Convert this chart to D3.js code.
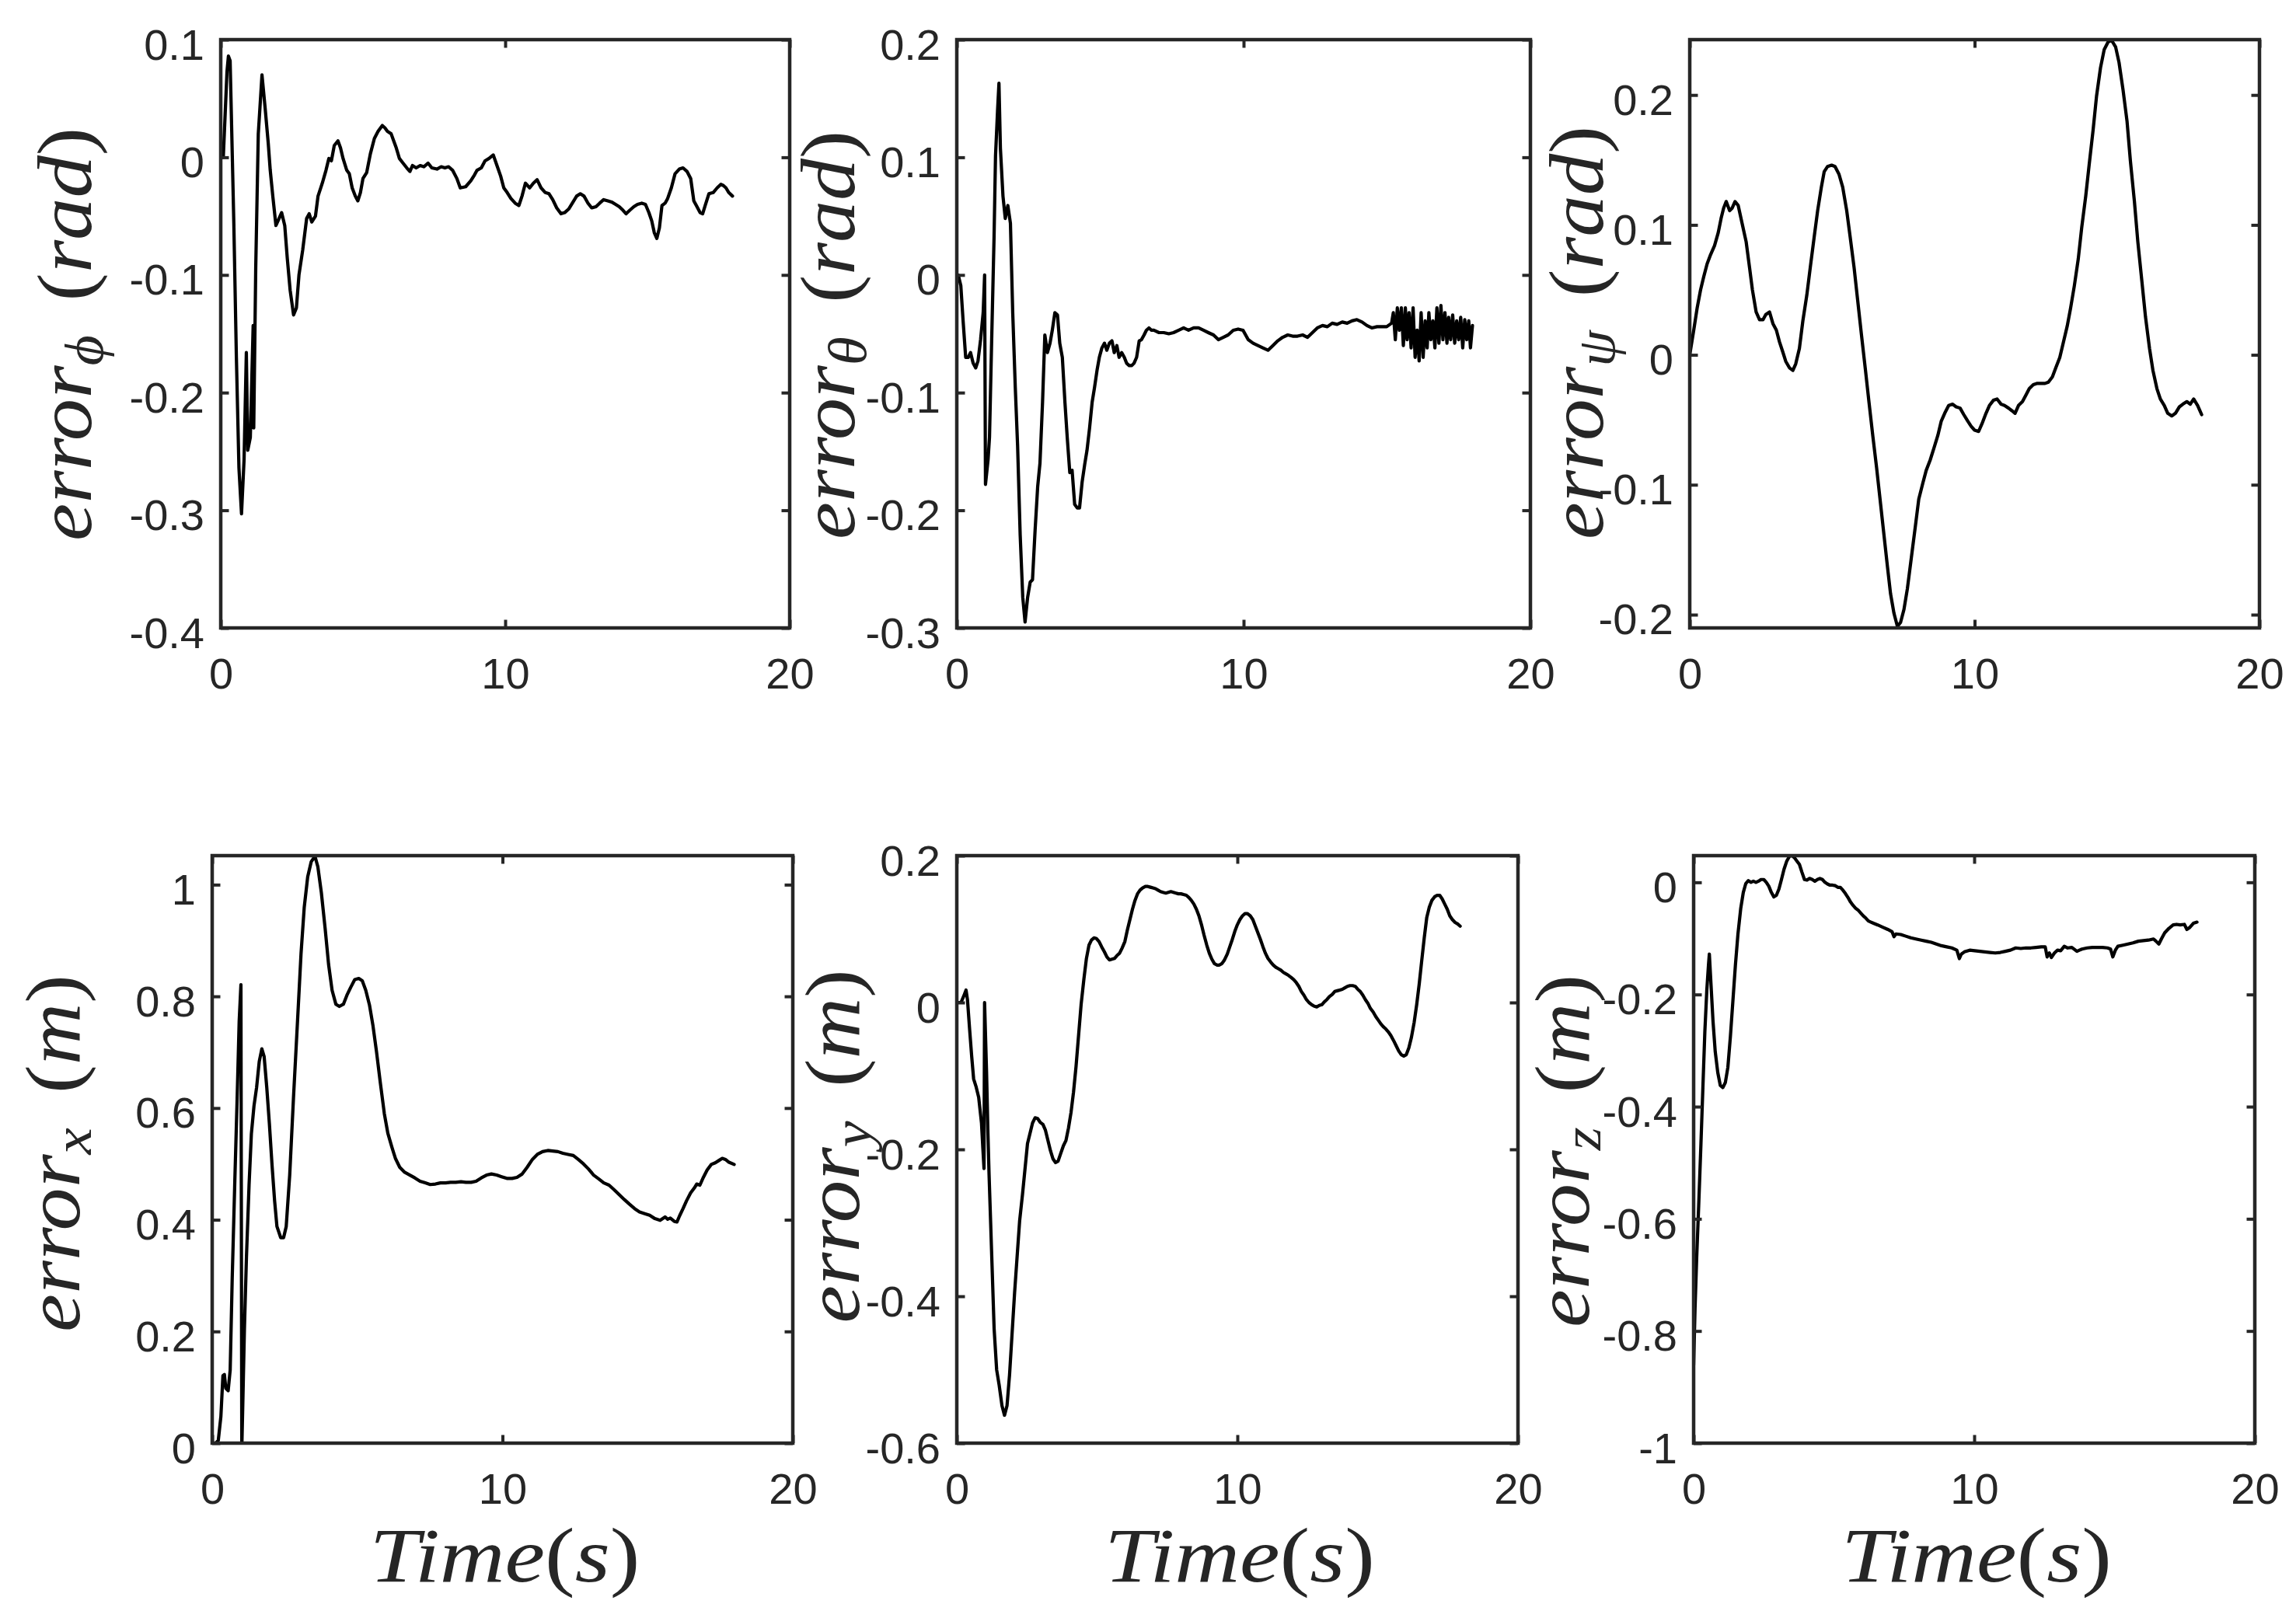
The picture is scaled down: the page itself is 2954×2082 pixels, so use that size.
<!DOCTYPE html>
<html><head><meta charset="utf-8">
<script src="https://cdn.jsdelivr.net/npm/d3@7"></script>
<style>html,body{margin:0;padding:0;background:#fff;} svg{display:block;}</style>
</head><body>
<svg id="chart" width="2954" height="2082"></svg>
<script>
// ---------------- data ----------------
const xTicks = [0, 10, 20];
const xDomain = [0, 20];

const errPhi = [[0,0],[0.09,0],[0.22,0.073],[0.27,0.086],[0.33,0.082],[0.46,-0.056],[0.55,-0.17],[0.64,-0.264],[0.73,-0.303],[0.82,-0.257],[0.9,-0.166],[0.95,-0.249],[1.04,-0.238],[1.14,-0.143],[1.16,-0.23],[1.23,-0.094],[1.32,0.02],[1.37,0.039],[1.45,0.07],[1.56,0.042],[1.67,0.012],[1.74,-0.011],[1.83,-0.033],[1.94,-0.058],[2.05,-0.052],[2.14,-0.047],[2.25,-0.058],[2.34,-0.086],[2.44,-0.113],[2.56,-0.134],[2.66,-0.128],[2.75,-0.1],[2.88,-0.079],[3.02,-0.052],[3.11,-0.048],[3.2,-0.055],[3.33,-0.05],[3.42,-0.033],[3.57,-0.022],[3.7,-0.011],[3.8,-0.001],[3.89,-0.003],[3.99,0.01],[4.12,0.014],[4.21,0.008],[4.3,-0.001],[4.43,-0.011],[4.52,-0.014],[4.62,-0.026],[4.73,-0.033],[4.82,-0.037],[4.91,-0.03],[5.0,-0.018],[5.13,-0.013],[5.26,0.003],[5.4,0.016],[5.53,0.022],[5.68,0.027],[5.77,0.025],[5.86,0.022],[5.99,0.02],[6.08,0.014],[6.17,0.008],[6.28,-0.001],[6.41,-0.005],[6.54,-0.009],[6.65,-0.012],[6.74,-0.007],[6.87,-0.009],[7.01,-0.007],[7.14,-0.008],[7.29,-0.005],[7.42,-0.009],[7.6,-0.01],[7.75,-0.008],[7.88,-0.009],[8.01,-0.008],[8.15,-0.011],[8.3,-0.018],[8.42,-0.026],[8.61,-0.025],[8.79,-0.02],[8.92,-0.015],[9.01,-0.011],[9.16,-0.009],[9.29,-0.003],[9.43,-0.001],[9.58,0.002],[9.71,-0.007],[9.84,-0.016],[9.95,-0.026],[10.07,-0.03],[10.2,-0.035],[10.35,-0.039],[10.48,-0.041],[10.59,-0.033],[10.71,-0.022],[10.86,-0.026],[10.99,-0.022],[11.12,-0.019],[11.26,-0.026],[11.41,-0.03],[11.54,-0.031],[11.67,-0.036],[11.81,-0.043],[11.96,-0.048],[12.09,-0.047],[12.23,-0.044],[12.36,-0.039],[12.51,-0.033],[12.64,-0.031],[12.77,-0.033],[12.91,-0.039],[13.04,-0.043],[13.19,-0.042],[13.32,-0.039],[13.46,-0.036],[13.61,-0.037],[13.74,-0.038],[13.88,-0.04],[14.01,-0.042],[14.14,-0.045],[14.25,-0.048],[14.38,-0.045],[14.52,-0.042],[14.65,-0.04],[14.8,-0.039],[14.93,-0.04],[15.05,-0.047],[15.15,-0.054],[15.24,-0.064],[15.33,-0.069],[15.42,-0.06],[15.51,-0.041],[15.62,-0.039],[15.71,-0.035],[15.84,-0.026],[15.97,-0.014],[16.12,-0.01],[16.25,-0.009],[16.39,-0.012],[16.52,-0.018],[16.63,-0.037],[16.72,-0.041],[16.85,-0.047],[16.94,-0.048],[17.03,-0.041],[17.16,-0.031],[17.31,-0.03],[17.45,-0.026],[17.58,-0.023],[17.67,-0.024],[17.76,-0.026],[17.86,-0.03],[17.99,-0.033]];

const errTheta = [[0,0],[0.05,0],[0.14,-0.009],[0.22,-0.039],[0.31,-0.07],[0.4,-0.07],[0.48,-0.066],[0.57,-0.075],[0.66,-0.079],[0.74,-0.073],[0.83,-0.055],[0.92,-0.032],[0.97,0],[1.0,-0.178],[1.09,-0.157],[1.14,-0.138],[1.21,-0.062],[1.3,0.033],[1.35,0.101],[1.42,0.139],[1.47,0.163],[1.52,0.108],[1.61,0.067],[1.69,0.048],[1.78,0.059],[1.87,0.044],[1.95,-0.032],[2.04,-0.096],[2.12,-0.145],[2.21,-0.221],[2.3,-0.274],[2.38,-0.295],[2.47,-0.274],[2.56,-0.261],[2.64,-0.259],[2.73,-0.217],[2.82,-0.18],[2.9,-0.16],[2.99,-0.108],[3.07,-0.051],[3.16,-0.066],[3.25,-0.058],[3.33,-0.047],[3.42,-0.032],[3.51,-0.034],[3.59,-0.058],[3.68,-0.07],[3.77,-0.108],[3.85,-0.138],[3.94,-0.168],[4.02,-0.166],[4.11,-0.195],[4.2,-0.198],[4.28,-0.198],[4.37,-0.176],[4.46,-0.161],[4.54,-0.149],[4.63,-0.13],[4.72,-0.108],[4.8,-0.096],[4.89,-0.081],[4.97,-0.07],[5.06,-0.062],[5.15,-0.058],[5.23,-0.064],[5.32,-0.058],[5.41,-0.056],[5.49,-0.066],[5.58,-0.06],[5.66,-0.07],[5.75,-0.066],[5.84,-0.07],[5.92,-0.075],[6.01,-0.077],[6.1,-0.077],[6.18,-0.075],[6.27,-0.07],[6.36,-0.056],[6.44,-0.055],[6.53,-0.051],[6.61,-0.047],[6.7,-0.045],[6.79,-0.047],[6.87,-0.047],[7.05,-0.049],[7.22,-0.049],[7.39,-0.05],[7.56,-0.049],[7.74,-0.047],[7.91,-0.045],[8.08,-0.047],[8.26,-0.045],[8.43,-0.045],[8.6,-0.047],[8.77,-0.049],[8.95,-0.051],[9.12,-0.055],[9.29,-0.053],[9.46,-0.051],[9.64,-0.047],[9.81,-0.046],[9.98,-0.047],[10.16,-0.055],[10.33,-0.058],[10.5,-0.06],[10.67,-0.062],[10.85,-0.064],[11.02,-0.06],[11.19,-0.056],[11.36,-0.053],[11.54,-0.051],[11.71,-0.052],[11.88,-0.052],[12.06,-0.051],[12.23,-0.053],[12.4,-0.049],[12.57,-0.045],[12.75,-0.043],[12.92,-0.044],[13.09,-0.041],[13.26,-0.042],[13.44,-0.04],[13.61,-0.041],[13.78,-0.039],[13.95,-0.038],[14.13,-0.04],[14.3,-0.043],[14.47,-0.045],[14.65,-0.044],[14.82,-0.044],[14.99,-0.044],[15.16,-0.041],[15.22,-0.032],[15.29,-0.055],[15.36,-0.028],[15.43,-0.047],[15.5,-0.028],[15.57,-0.06],[15.64,-0.028],[15.7,-0.055],[15.77,-0.032],[15.84,-0.062],[15.91,-0.028],[15.98,-0.07],[16.05,-0.047],[16.12,-0.073],[16.19,-0.032],[16.26,-0.07],[16.33,-0.039],[16.4,-0.062],[16.46,-0.032],[16.53,-0.055],[16.6,-0.039],[16.67,-0.062],[16.74,-0.028],[16.81,-0.058],[16.88,-0.026],[16.95,-0.055],[17.02,-0.032],[17.09,-0.058],[17.15,-0.036],[17.22,-0.055],[17.29,-0.034],[17.36,-0.058],[17.43,-0.039],[17.5,-0.055],[17.57,-0.036],[17.64,-0.062],[17.71,-0.038],[17.78,-0.055],[17.85,-0.039],[17.91,-0.062],[17.98,-0.043]];

const errPsi = [[0,0],[0.14,0.019],[0.26,0.036],[0.38,0.05],[0.49,0.06],[0.61,0.07],[0.73,0.077],[0.87,0.084],[1.0,0.094],[1.1,0.105],[1.19,0.113],[1.28,0.118],[1.4,0.111],[1.49,0.113],[1.59,0.118],[1.7,0.115],[1.84,0.101],[1.98,0.087],[2.1,0.067],[2.2,0.05],[2.33,0.033],[2.45,0.027],[2.57,0.027],[2.67,0.031],[2.8,0.033],[2.92,0.024],[3.04,0.019],[3.15,0.01],[3.27,0.002],[3.37,-0.005],[3.5,-0.01],[3.62,-0.012],[3.72,-0.007],[3.85,0.005],[3.97,0.026],[4.11,0.046],[4.23,0.067],[4.37,0.091],[4.49,0.111],[4.62,0.129],[4.72,0.141],[4.84,0.145],[4.98,0.146],[5.1,0.145],[5.24,0.139],[5.37,0.129],[5.51,0.111],[5.63,0.091],[5.77,0.067],[5.89,0.043],[6.03,0.015],[6.17,-0.012],[6.29,-0.036],[6.43,-0.063],[6.56,-0.087],[6.7,-0.115],[6.82,-0.139],[6.94,-0.163],[7.05,-0.184],[7.17,-0.199],[7.29,-0.209],[7.4,-0.206],[7.52,-0.196],[7.64,-0.18],[7.78,-0.156],[7.92,-0.132],[8.04,-0.111],[8.18,-0.099],[8.3,-0.089],[8.44,-0.081],[8.57,-0.072],[8.71,-0.062],[8.83,-0.051],[8.95,-0.045],[9.09,-0.039],[9.23,-0.038],[9.35,-0.04],[9.49,-0.041],[9.62,-0.046],[9.76,-0.051],[9.88,-0.055],[10.0,-0.058],[10.14,-0.059],[10.26,-0.053],[10.4,-0.045],[10.52,-0.039],[10.66,-0.035],[10.79,-0.034],[10.93,-0.038],[11.05,-0.039],[11.19,-0.041],[11.31,-0.043],[11.42,-0.045],[11.54,-0.039],[11.68,-0.036],[11.8,-0.031],[11.92,-0.026],[12.06,-0.023],[12.2,-0.022],[12.33,-0.022],[12.47,-0.022],[12.59,-0.021],[12.73,-0.017],[12.85,-0.01],[12.99,-0.002],[13.11,0.009],[13.25,0.022],[13.37,0.036],[13.5,0.053],[13.64,0.074],[13.76,0.098],[13.9,0.122],[14.02,0.146],[14.16,0.173],[14.28,0.199],[14.42,0.221],[14.55,0.235],[14.69,0.241],[14.81,0.242],[14.95,0.237],[15.07,0.225],[15.21,0.204],[15.35,0.18],[15.47,0.149],[15.61,0.118],[15.73,0.087],[15.87,0.057],[16.0,0.029],[16.14,0.005],[16.26,-0.012],[16.4,-0.026],[16.52,-0.034],[16.66,-0.039],[16.78,-0.045],[16.92,-0.047],[17.05,-0.045],[17.19,-0.04],[17.31,-0.038],[17.45,-0.036],[17.57,-0.038],[17.69,-0.034],[17.83,-0.039],[17.97,-0.046]];

const errX = [[0,0],[0.12,0],[0.21,0.005],[0.3,0.048],[0.37,0.121],[0.42,0.123],[0.47,0.098],[0.55,0.094],[0.62,0.131],[0.69,0.296],[0.78,0.47],[0.86,0.618],[0.93,0.756],[0.99,0.821],[1.02,-0.01],[1.05,0.06],[1.11,0.204],[1.18,0.333],[1.27,0.462],[1.35,0.554],[1.44,0.604],[1.53,0.637],[1.62,0.683],[1.71,0.706],[1.79,0.692],[1.88,0.637],[1.97,0.572],[2.06,0.499],[2.15,0.434],[2.23,0.388],[2.36,0.368],[2.46,0.368],[2.55,0.388],[2.67,0.48],[2.8,0.618],[2.94,0.756],[3.06,0.876],[3.17,0.959],[3.29,1.014],[3.41,1.041],[3.54,1.051],[3.64,1.032],[3.76,0.986],[3.89,0.922],[4.01,0.857],[4.13,0.811],[4.26,0.786],[4.38,0.782],[4.52,0.786],[4.64,0.802],[4.77,0.816],[4.91,0.83],[5.05,0.832],[5.17,0.828],[5.29,0.811],[5.42,0.784],[5.54,0.747],[5.66,0.701],[5.79,0.646],[5.93,0.59],[6.05,0.555],[6.19,0.53],[6.31,0.51],[6.46,0.494],[6.63,0.485],[6.81,0.48],[6.98,0.475],[7.16,0.469],[7.34,0.466],[7.51,0.463],[7.69,0.464],[7.86,0.466],[8.04,0.466],[8.21,0.467],[8.39,0.467],[8.57,0.468],[8.74,0.467],[8.92,0.467],[9.09,0.469],[9.27,0.475],[9.45,0.48],[9.62,0.482],[9.8,0.48],[9.97,0.477],[10.15,0.474],[10.33,0.474],[10.5,0.476],[10.68,0.482],[10.85,0.494],[11.03,0.508],[11.2,0.517],[11.38,0.522],[11.56,0.524],[11.73,0.523],[11.91,0.522],[12.08,0.519],[12.26,0.517],[12.44,0.515],[12.61,0.508],[12.79,0.5],[12.96,0.491],[13.14,0.48],[13.32,0.473],[13.49,0.466],[13.67,0.462],[13.84,0.454],[14.02,0.445],[14.2,0.436],[14.37,0.428],[14.55,0.42],[14.72,0.414],[14.9,0.411],[15.07,0.408],[15.25,0.402],[15.43,0.399],[15.6,0.405],[15.69,0.401],[15.78,0.403],[15.92,0.397],[16.01,0.396],[16.1,0.407],[16.22,0.42],[16.34,0.434],[16.48,0.448],[16.61,0.457],[16.69,0.464],[16.8,0.462],[16.92,0.476],[17.05,0.489],[17.19,0.499],[17.33,0.502],[17.45,0.506],[17.57,0.51],[17.68,0.508],[17.8,0.503],[17.98,0.499]];

const errY = [[0,0],[0.15,0],[0.24,0.008],[0.33,0.017],[0.38,0.004],[0.46,-0.038],[0.53,-0.073],[0.6,-0.104],[0.69,-0.115],[0.78,-0.129],[0.88,-0.164],[0.93,-0.199],[0.97,-0.226],[0.99,0],[1.06,-0.094],[1.11,-0.178],[1.15,-0.234],[1.24,-0.339],[1.33,-0.444],[1.42,-0.5],[1.51,-0.521],[1.61,-0.549],[1.7,-0.562],[1.79,-0.549],[1.88,-0.507],[1.97,-0.451],[2.06,-0.395],[2.15,-0.346],[2.24,-0.297],[2.34,-0.262],[2.43,-0.227],[2.52,-0.192],[2.61,-0.178],[2.7,-0.164],[2.79,-0.157],[2.88,-0.158],[2.97,-0.163],[3.07,-0.166],[3.16,-0.174],[3.25,-0.188],[3.34,-0.202],[3.43,-0.213],[3.52,-0.218],[3.61,-0.216],[3.7,-0.206],[3.8,-0.195],[3.89,-0.188],[3.98,-0.171],[4.07,-0.15],[4.16,-0.122],[4.25,-0.087],[4.34,-0.045],[4.43,-0.003],[4.53,0.032],[4.62,0.06],[4.71,0.078],[4.8,0.085],[4.89,0.088],[4.98,0.087],[5.07,0.083],[5.16,0.076],[5.26,0.069],[5.35,0.062],[5.44,0.058],[5.53,0.059],[5.62,0.06],[5.71,0.064],[5.8,0.067],[5.89,0.074],[5.99,0.083],[6.08,0.099],[6.17,0.113],[6.26,0.127],[6.35,0.139],[6.44,0.148],[6.53,0.153],[6.62,0.156],[6.72,0.158],[6.81,0.158],[6.9,0.157],[6.99,0.156],[7.08,0.155],[7.17,0.153],[7.26,0.151],[7.35,0.15],[7.45,0.149],[7.54,0.15],[7.63,0.151],[7.72,0.15],[7.81,0.149],[7.9,0.148],[7.99,0.148],[8.08,0.147],[8.18,0.146],[8.27,0.143],[8.36,0.139],[8.45,0.134],[8.54,0.127],[8.63,0.118],[8.72,0.106],[8.81,0.092],[8.91,0.078],[9.0,0.067],[9.09,0.059],[9.18,0.053],[9.27,0.051],[9.36,0.051],[9.45,0.053],[9.54,0.058],[9.64,0.066],[9.73,0.076],[9.82,0.086],[9.91,0.097],[10.0,0.106],[10.09,0.113],[10.18,0.118],[10.27,0.121],[10.36,0.121],[10.46,0.118],[10.55,0.113],[10.64,0.104],[10.73,0.095],[10.82,0.086],[10.91,0.076],[11.0,0.067],[11.09,0.06],[11.19,0.055],[11.28,0.051],[11.37,0.048],[11.46,0.046],[11.55,0.044],[11.64,0.041],[11.73,0.039],[11.82,0.037],[11.92,0.034],[12.01,0.031],[12.1,0.027],[12.19,0.022],[12.28,0.015],[12.37,0.01],[12.46,0.004],[12.55,0],[12.65,-0.003],[12.74,-0.005],[12.83,-0.006],[12.92,-0.004],[13.01,-0.003],[13.1,0.001],[13.19,0.004],[13.28,0.008],[13.38,0.011],[13.47,0.015],[13.56,0.016],[13.65,0.017],[13.74,0.018],[13.83,0.02],[13.92,0.022],[14.01,0.023],[14.11,0.023],[14.2,0.022],[14.29,0.018],[14.38,0.015],[14.47,0.01],[14.56,0.004],[14.65,-0.001],[14.74,-0.008],[14.84,-0.013],[14.93,-0.019],[15.02,-0.024],[15.11,-0.029],[15.2,-0.033],[15.29,-0.036],[15.38,-0.04],[15.47,-0.045],[15.57,-0.052],[15.66,-0.059],[15.75,-0.066],[15.84,-0.071],[15.93,-0.073],[16.02,-0.071],[16.11,-0.062],[16.2,-0.048],[16.3,-0.027],[16.39,-0.003],[16.48,0.025],[16.57,0.057],[16.66,0.088],[16.75,0.116],[16.84,0.13],[16.93,0.139],[17.03,0.144],[17.12,0.146],[17.21,0.146],[17.3,0.141],[17.39,0.134],[17.48,0.127],[17.57,0.118],[17.66,0.113],[17.76,0.109],[17.85,0.107],[17.94,0.104]];

const errZ = [[0,-0.861],[0.05,-0.76],[0.11,-0.668],[0.18,-0.577],[0.26,-0.467],[0.33,-0.366],[0.4,-0.266],[0.47,-0.192],[0.53,-0.147],[0.56,-0.128],[0.62,-0.183],[0.69,-0.247],[0.77,-0.302],[0.86,-0.339],[0.95,-0.362],[1.04,-0.366],[1.13,-0.357],[1.22,-0.33],[1.31,-0.275],[1.4,-0.211],[1.49,-0.147],[1.58,-0.092],[1.68,-0.046],[1.77,-0.018],[1.86,-0.002],[1.95,0.003],[2.04,0],[2.13,0.002],[2.22,0],[2.31,0.002],[2.4,0.005],[2.5,0.005],[2.59,0],[2.68,-0.007],[2.77,-0.018],[2.86,-0.026],[2.95,-0.023],[3.04,-0.012],[3.13,0.005],[3.22,0.023],[3.32,0.038],[3.41,0.046],[3.5,0.048],[3.59,0.044],[3.68,0.038],[3.77,0.032],[3.86,0.018],[3.95,0.005],[4.04,0.004],[4.13,0.007],[4.23,0.005],[4.32,0.002],[4.41,0.005],[4.5,0.007],[4.59,0.005],[4.68,0],[4.77,-0.003],[4.86,-0.005],[4.95,-0.005],[5.05,-0.006],[5.14,-0.009],[5.23,-0.009],[5.32,-0.014],[5.41,-0.02],[5.5,-0.027],[5.59,-0.035],[5.68,-0.041],[5.77,-0.046],[5.87,-0.05],[5.96,-0.055],[6.05,-0.06],[6.14,-0.064],[6.23,-0.069],[6.32,-0.071],[6.41,-0.073],[6.56,-0.076],[6.74,-0.08],[6.92,-0.084],[7.07,-0.088],[7.14,-0.097],[7.21,-0.092],[7.38,-0.093],[7.56,-0.096],[7.74,-0.099],[7.92,-0.101],[8.11,-0.103],[8.29,-0.105],[8.47,-0.107],[8.65,-0.11],[8.83,-0.113],[9.02,-0.115],[9.2,-0.117],[9.38,-0.121],[9.47,-0.136],[9.54,-0.128],[9.65,-0.124],[9.84,-0.121],[10.02,-0.122],[10.2,-0.123],[10.38,-0.124],[10.56,-0.125],[10.75,-0.126],[10.93,-0.125],[11.11,-0.123],[11.29,-0.121],[11.48,-0.117],[11.66,-0.118],[11.84,-0.117],[12.02,-0.117],[12.2,-0.116],[12.39,-0.115],[12.53,-0.115],[12.6,-0.133],[12.68,-0.126],[12.75,-0.134],[12.86,-0.126],[12.97,-0.121],[13.08,-0.122],[13.21,-0.114],[13.33,-0.117],[13.48,-0.116],[13.66,-0.123],[13.75,-0.121],[13.84,-0.119],[14.03,-0.117],[14.21,-0.116],[14.39,-0.116],[14.57,-0.116],[14.75,-0.117],[14.86,-0.119],[14.94,-0.133],[15.03,-0.121],[15.12,-0.114],[15.3,-0.112],[15.48,-0.11],[15.66,-0.108],[15.85,-0.105],[16.03,-0.104],[16.21,-0.103],[16.39,-0.101],[16.48,-0.105],[16.58,-0.11],[16.67,-0.101],[16.79,-0.09],[16.94,-0.082],[17.09,-0.076],[17.21,-0.075],[17.34,-0.076],[17.49,-0.075],[17.58,-0.084],[17.67,-0.081],[17.81,-0.073],[17.94,-0.071]];

const yTicksPhi   = [0.1, 0, -0.1, -0.2, -0.3, -0.4];
const yTicksTheta = [0.2, 0.1, 0, -0.1, -0.2, -0.3];
const yTicksPsi   = [0.2, 0.1, 0, -0.1, -0.2];
const yTicksX     = [0, 0.2, 0.4, 0.6, 0.8, 1];
const yTicksY     = [0.2, 0, -0.2, -0.4, -0.6];
const yTicksZ     = [0, -0.2, -0.4, -0.6, -0.8, -1];

const yDomPhi   = [-0.4, 0.1];
const yDomTheta = [-0.3, 0.2];
const yDomPsi   = [-0.2102, 0.2426];
const yDomX     = [0, 1.052];
const yDomY     = [-0.6, 0.2];
const yDomZ     = [-1, 0.0476];

const labelSubs  = ["\u03D5", "\u03B8", "\u03C8", "x", "y", "z"];
const labelUnits = ["rad", "rad", "rad", "m", "m", "m"];
const xLabelMain = "Time";
const xLabelUnit = "s";

// ---------------- layout ----------------
const series = [errPhi, errTheta, errPsi, errX, errY, errZ];
const ticksY = [yTicksPhi, yTicksTheta, yTicksPsi, yTicksX, yTicksY, yTicksZ];
const domsY = [yDomPhi, yDomTheta, yDomPsi, yDomX, yDomY, yDomZ];

const layout = [
  {l:284,  r:1016, t:51,   b:808,  labX:117,  labY:430,  labLen:532},
  {l:1231, r:1969, t:51,   b:808,  labX:1099, labY:431,  labLen:526},
  {l:2174, r:2907, t:51,   b:808,  labX:2062, labY:428,  labLen:532},
  {l:273,  r:1020, t:1101, b:1857, labX:102,  labY:1484, labLen:460},
  {l:1231, r:1953, t:1101, b:1857, labX:1105, labY:1475, labLen:455},
  {l:2179, r:2901, t:1101, b:1857, labX:2044, labY:1481, labLen:454}
];

const AX = "#262626";
const TICK = 10.5;
const TICK_FONT = "Liberation Sans";
const LABEL_FONT = "Liberation Serif";

const svg = d3.select("#chart");
svg.append("rect").attr("width",2954).attr("height",2082).attr("fill","#fff");
const defs = svg.append("defs");

// stretch a text element along its own writing direction to reach the wanted length
function fitLength(textSel, baseTransform, wanted) {
  const w = textSel.node().getComputedTextLength();
  const sx = w > 0 ? wanted / w : 1;
  textSel.attr("transform", `${baseTransform} scale(${sx},1)`);
}

layout.forEach((p, i) => {
  const x = d3.scaleLinear().domain(xDomain).range([p.l, p.r]);
  const y = d3.scaleLinear().domain(domsY[i]).range([p.b, p.t]);
  const g = svg.append("g");

  defs.append("clipPath").attr("id", "clip" + i)
    .append("rect").attr("x", p.l).attr("y", p.t).attr("width", p.r - p.l).attr("height", p.b - p.t);

  g.append("path").datum(series[i])
    .attr("clip-path", `url(#clip${i})`)
    .attr("fill", "none").attr("stroke", "#000").attr("stroke-width", 4.2)
    .attr("stroke-linejoin", "round").attr("stroke-linecap", "round")
    .attr("d", d3.line().x(d => x(d[0])).y(d => y(d[1])));

  const styleAxis = (sel) => {
    sel.select(".domain").remove();
    sel.selectAll(".tick line").attr("stroke", AX).attr("stroke-width", 4);
    sel.attr("font-family", TICK_FONT).attr("font-size", 56);
    sel.selectAll(".tick text").attr("fill", AX);
  };
  const fmt = d => String(d);

  g.append("g").attr("transform", `translate(0,${p.b})`)
    .call(d3.axisBottom(x).tickValues(xTicks).tickSizeInner(-TICK).tickSizeOuter(0).tickPadding(0).tickFormat(fmt))
    .call(styleAxis)
    .call(s => s.selectAll(".tick text").attr("y", 78).attr("dy", null));
  g.append("g").attr("transform", `translate(0,${p.t})`)
    .call(d3.axisTop(x).tickValues(xTicks).tickSizeInner(-TICK).tickSizeOuter(0).tickFormat(""))
    .call(styleAxis);
  g.append("g").attr("transform", `translate(${p.l},0)`)
    .call(d3.axisLeft(y).tickValues(ticksY[i]).tickSizeInner(-TICK).tickSizeOuter(0).tickPadding(21).tickFormat(fmt))
    .call(styleAxis)
    .call(s => s.selectAll(".tick text").attr("dy", null).attr("y", 25));
  g.append("g").attr("transform", `translate(${p.r},0)`)
    .call(d3.axisRight(y).tickValues(ticksY[i]).tickSizeInner(-TICK).tickSizeOuter(0).tickFormat(""))
    .call(styleAxis);

  g.append("rect").attr("x", p.l).attr("y", p.t).attr("width", p.r - p.l).attr("height", p.b - p.t)
    .attr("fill", "none").attr("stroke", AX).attr("stroke-width", 4.5);

  // y label
  const yl = g.append("text")
    .attr("text-anchor", "middle")
    .attr("font-family", LABEL_FONT).attr("font-size", 100).attr("fill", AX);
  yl.append("tspan").attr("font-style", "italic").text("error");
  yl.append("tspan").attr("font-style", "italic").attr("font-size", 70).attr("dy", 15).text(labelSubs[i]);
  yl.append("tspan").attr("dy", -15).text("\u2009\u2009(");
  yl.append("tspan").attr("font-style", "italic").text(labelUnits[i]);
  yl.append("tspan").text(")");
  fitLength(yl, `translate(${p.labX},${p.labY}) rotate(-90)`, p.labLen);

  if (i >= 3) {
    const xl = g.append("text")
      .attr("text-anchor", "middle")
      .attr("font-family", LABEL_FONT).attr("font-size", 100).attr("fill", AX);
    xl.append("tspan").attr("font-style", "italic").text(xLabelMain);
    xl.append("tspan").text("(");
    xl.append("tspan").attr("font-style", "italic").text(xLabelUnit);
    xl.append("tspan").text(")");
    fitLength(xl, `translate(${(p.l + p.r) / 2 + 3},2035)`, 348);
  }
});
</script>
</body></html>
